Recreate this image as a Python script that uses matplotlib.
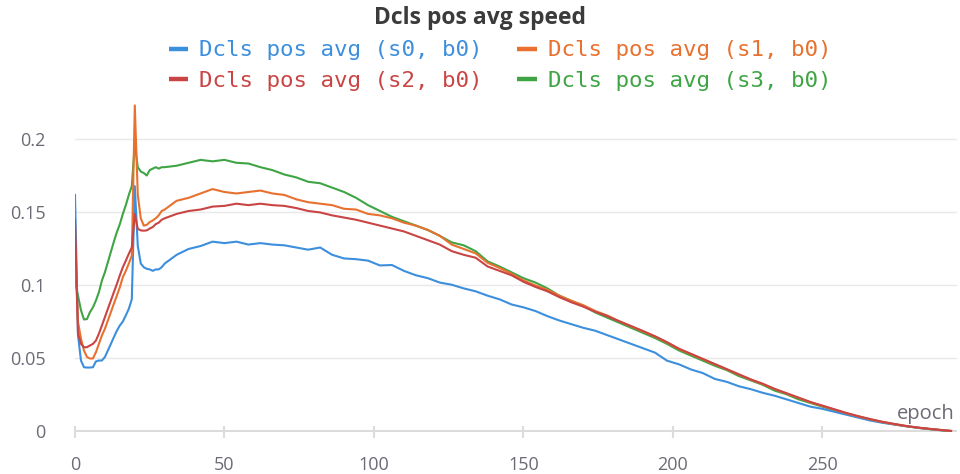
import matplotlib
matplotlib.use("Agg")
from matplotlib import pyplot as plt
from matplotlib.lines import Line2D

# epochs: every epoch up to 29, then every 4th, last one 293
epochs = list(range(0, 30)) + list(range(30, 294, 4)) + [293]

s0 = [0.162, 0.066, 0.0486, 0.044, 0.0438, 0.0438, 0.044, 0.048, 0.0486, 0.0486,
      0.051, 0.0555, 0.060, 0.0646, 0.069, 0.0726, 0.0753, 0.0795, 0.084, 0.0905,
      0.168, 0.127, 0.115, 0.1125, 0.1114, 0.111, 0.110, 0.111, 0.111, 0.1125,
      0.115, 0.121, 0.125, 0.127, 0.130, 0.129, 0.130, 0.128, 0.129, 0.128,
      0.1275, 0.126, 0.1245, 0.126, 0.121, 0.1185, 0.118, 0.117, 0.1137, 0.114,
      0.110, 0.107, 0.105, 0.102, 0.1005, 0.098, 0.096, 0.093, 0.0905, 0.087,
      0.085, 0.0825, 0.079, 0.076, 0.0735, 0.071, 0.069, 0.066, 0.063, 0.060,
      0.057, 0.054, 0.0485, 0.046, 0.0425, 0.040, 0.036, 0.034, 0.031, 0.029,
      0.0265, 0.0245, 0.022, 0.0195, 0.017, 0.0155, 0.0135, 0.0115, 0.0095, 0.0075,
      0.006, 0.0048, 0.0036, 0.0025, 0.0016, 0.0008, 0.0003]

s1 = [0.124, 0.075, 0.0635, 0.0555, 0.051, 0.050, 0.050, 0.0543, 0.060, 0.0658,
      0.0703, 0.076, 0.0817, 0.0875, 0.093, 0.0988, 0.1057, 0.110, 0.115, 0.1205,
      0.2233, 0.162, 0.146, 0.141, 0.1415, 0.1434, 0.1445, 0.146, 0.148, 0.151,
      0.152, 0.158, 0.160, 0.163, 0.166, 0.164, 0.163, 0.164, 0.165, 0.163,
      0.162, 0.159, 0.157, 0.156, 0.155, 0.1525, 0.152, 0.149, 0.148, 0.146,
      0.143, 0.141, 0.138, 0.134, 0.128, 0.125, 0.122, 0.1155, 0.112, 0.108,
      0.1035, 0.100, 0.097, 0.093, 0.0895, 0.0865, 0.0825, 0.0795, 0.0755, 0.072,
      0.0685, 0.065, 0.061, 0.0565, 0.053, 0.0495, 0.046, 0.0425, 0.039, 0.0355,
      0.0325, 0.029, 0.026, 0.023, 0.020, 0.0175, 0.015, 0.0125, 0.0103, 0.0083,
      0.0065, 0.005, 0.0037, 0.0026, 0.0017, 0.0009, 0.0004]

s2 = [0.145, 0.067, 0.060, 0.0577, 0.0577, 0.0589, 0.060, 0.0623, 0.067, 0.0726,
      0.0783, 0.084, 0.0897, 0.0954, 0.101, 0.107, 0.1125, 0.117, 0.1217, 0.126,
      0.149, 0.1388, 0.1377, 0.1375, 0.1377, 0.139, 0.140, 0.142, 0.143, 0.145,
      0.146, 0.149, 0.151, 0.152, 0.154, 0.1545, 0.156, 0.155, 0.156, 0.155,
      0.1545, 0.153, 0.151, 0.150, 0.148, 0.1465, 0.145, 0.143, 0.141, 0.139,
      0.137, 0.134, 0.131, 0.128, 0.1235, 0.121, 0.119, 0.113, 0.110, 0.107,
      0.1025, 0.099, 0.096, 0.092, 0.0885, 0.0855, 0.082, 0.079, 0.0755, 0.0722,
      0.0688, 0.0652, 0.0612, 0.0567, 0.0532, 0.0497, 0.0462, 0.0427, 0.0392, 0.0357,
      0.0327, 0.0292, 0.0262, 0.0232, 0.0202, 0.0177, 0.0152, 0.0127, 0.0105, 0.0085,
      0.0067, 0.0052, 0.0038, 0.0027, 0.0018, 0.001, 0.0004]

s3 = [0.1034, 0.093, 0.083, 0.0767, 0.077, 0.0817, 0.085, 0.0897, 0.0954, 0.1034,
      0.109, 0.116, 0.123, 0.130, 0.1365, 0.142, 0.149, 0.155, 0.162, 0.168,
      0.197, 0.181, 0.178, 0.177, 0.1753, 0.179, 0.180, 0.181, 0.180, 0.181,
      0.181, 0.182, 0.184, 0.186, 0.185, 0.186, 0.184, 0.1835, 0.181, 0.179,
      0.176, 0.174, 0.171, 0.170, 0.167, 0.164, 0.160, 0.155, 0.151, 0.147,
      0.144, 0.141, 0.138, 0.134, 0.1295, 0.1275, 0.1235, 0.1165, 0.113, 0.109,
      0.105, 0.102, 0.098, 0.093, 0.0895, 0.086, 0.0815, 0.078, 0.0745, 0.071,
      0.0675, 0.064, 0.060, 0.0555, 0.052, 0.0485, 0.045, 0.042, 0.038, 0.035,
      0.032, 0.028, 0.0255, 0.022, 0.0195, 0.017, 0.0145, 0.012, 0.010, 0.008,
      0.0063, 0.0049, 0.0036, 0.0025, 0.0016, 0.0008, 0.0003]

labels = ["Dcls pos avg (s0, b0)", "Dcls pos avg (s1, b0)",
          "Dcls pos avg (s2, b0)", "Dcls pos avg (s3, b0)"]
colors = ["#3c8fdd", "#e8712f", "#c94544", "#3fa544"]
yticks = [0, 0.05, 0.1, 0.15, 0.2]
xticks = [0, 50, 100, 150, 200, 250]

W, H = 960, 474
fig = plt.figure(figsize=(W / 100, H / 100), dpi=100)
ax = fig.add_axes([75 / W, 1 - 431.5 / H, (957 - 75) / W, (431.5 - 100) / H])

grey = "#6b6b76"
for y in yticks[1:]:
    ax.axhline(y, color="#e8e8e8", lw=1, zorder=0)
ax.axhline(0, color="#dcdcdc", lw=3, zorder=1)

# draw s3 under the others like the reference
order = [3, 0, 1, 2]
series = [s0, s1, s2, s3]
for i in order:
    ax.plot(epochs, series[i], color=colors[i], lw=1.5, zorder=3)

ax.set_xlim(0, 295)
ax.set_ylim(0, 0.227)
ax.set_xticks(xticks)
ax.set_xticklabels([str(x) for x in xticks])
ax.set_yticks(yticks)
ax.set_yticklabels(["0", "0.05", "0.1", "0.15", "0.2"])
for s in ax.spines.values():
    s.set_visible(False)
ax.tick_params(axis="y", length=0, pad=21, labelsize=13, labelcolor=grey)
ax.tick_params(axis="x", length=9, width=1.5, color="#dcdcdc", direction="inout",
               pad=13, labelsize=13, labelcolor=grey)
for t in ax.get_xticklabels() + ax.get_yticklabels():
    t.set_family("Open Sans")

ax.text(955 / W, 1 - 414 / H, "epoch", transform=fig.transFigure, ha="right",
        va="center", fontsize=14.5, color=grey, family="Open Sans")

fig.text(0.5, 1 - 18 / H, "Dcls pos avg speed", ha="center", va="center",
         fontsize=16.5, fontweight="bold", color="#3b3b3b", family="Open Sans")

handles = [Line2D([], [], color=c, lw=3.2, solid_capstyle="butt") for c in colors]
idx = [0, 2, 1, 3]
leg = fig.legend([handles[i] for i in idx], [labels[i] for i in idx],
                 loc="center", bbox_to_anchor=(500 / W, 1 - 65.5 / H), ncol=2,
                 frameon=False, prop={"family": "DejaVu Sans Mono", "size": 16.2},
                 handlelength=0.85, handletextpad=0.5, columnspacing=1.55,
                 labelspacing=0.45, borderpad=0)
for t, i in zip(leg.get_texts(), idx):
    t.set_color(colors[i])

fig.savefig("out.png", dpi=100)
